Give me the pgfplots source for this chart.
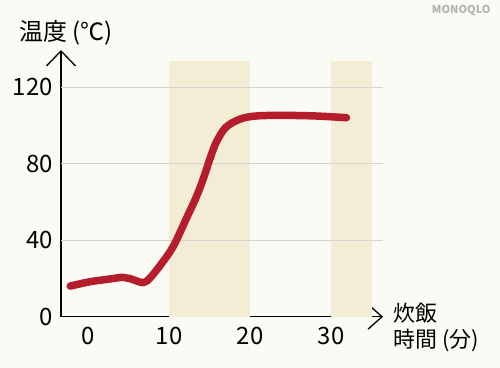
\documentclass[border=0pt]{standalone}
\usepackage{pgfplots}
\pgfplotsset{compat=1.18}
\usepackage{fontspec}
\setmainfont{Noto Sans CJK JP}
\usetikzlibrary{arrows.meta}
\definecolor{bgc}{HTML}{FBFBF6}
\definecolor{bandc}{HTML}{F3EDD5}
\definecolor{curvec}{HTML}{B51D2D}
\definecolor{gridc}{HTML}{D6D4CC}
\begin{document}
\begin{tikzpicture}
\fill[bgc] (0,0) rectangle (500bp,368bp);
\begin{axis}[
  at={(61bp,51.3bp)}, anchor=south west,
  scale only axis, width=322bp, height=266.7bp,
  xmin=-3.33, xmax=36.4, ymin=0, ymax=139.5,
  axis x line=bottom, axis y line=left,
  axis line style={line width=1.3bp, black},
  x axis line style={-{Straight Barb[length=14bp,width=25bp,line width=1.3bp]}},
  y axis line style={-{Straight Barb[length=15bp,width=29bp,line width=1.3bp]}},
  xtick={0,10,20,30}, ytick={0,40,80,120},
  major tick length=0pt,
  /pgf/number format/assume math mode=true,
  tick label style={font=\fontsize{24}{24}\selectfont},
  xticklabel style={inner sep=0pt, yshift=-10bp},
  yticklabel style={inner sep=0pt, xshift=-8bp},
  clip=false,
]
\addplot[fill=bandc, draw=none] coordinates {(10,0) (10,133.8) (20,133.8) (20,0)};
\addplot[fill=bandc, draw=none] coordinates {(30,0) (30,133.8) (35,133.8) (35,0)};
\addplot[gridc, line width=1.2bp] coordinates {(-3.33,40) (36.4,40)};
\addplot[gridc, line width=1.2bp] coordinates {(-3.33,80) (36.4,80)};
\addplot[gridc, line width=1.2bp] coordinates {(-3.33,120) (36.4,120)};
\addplot[curvec, line width=7.5bp, smooth, tension=0.55, line cap=round, line join=round] coordinates {
(-2.2,16) (0.25,18.3) (2.5,19.6) (4.3,20.6) (5.2,19.9) (6.8,17.8) (7.6,20) (8.3,23.5)
(9.1,27.9) (10.5,36.6) (12.1,51) (13.4,63) (14.3,73) (15.0,82) (15.8,91)
(17.0,99) (18.8,103.4) (20.8,105) (24,105.3) (28,105) (31.9,104.1)};
\end{axis}
\node[font=\fontsize{24}{24}\selectfont] at (66bp,335bp) {温度 (℃)};
\node[anchor=west, align=left, font=\fontsize{22}{26}\selectfont] at (390bp,41bp) {炊飯\\時間 (分)};
\node[anchor=east, text=black!30, font=\fontsize{11}{11}\bfseries] at (494bp,357bp) {MONOQLO};
\useasboundingbox (0,0) rectangle (500bp,368bp);
\end{tikzpicture}
\end{document}
